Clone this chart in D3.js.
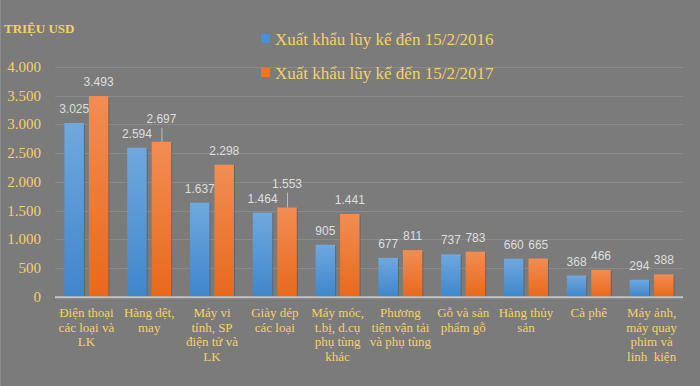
<!DOCTYPE html>
<html>
<head>
<meta charset="utf-8">
<script src="https://cdn.jsdelivr.net/npm/d3@7"></script>
<style>
	html, body { margin: 0; padding: 0; background: #7b7b7b; }
	svg { display: block; }
</style>
</head>
<body>
<svg id="chart" width="700" height="386"></svg>
<script>
var categories = [
	["Điện thoại", "các loại và", "LK"],
	["Hàng dệt,", "may"],
	["Máy vi", "tính, SP", "điện tử và", "LK"],
	["Giày dép", "các loại"],
	["Máy móc,", "t.bị, d.cụ", "phụ tùng", "khác"],
	["Phương", "tiện vận tải", "và phụ tùng"],
	["Gỗ và sản", "phẩm gỗ"],
	["Hàng thủy", "sản"],
	["Cà phê"],
	["Máy ảnh,", "máy quay", "phim và", "linh  kiện"]
];
var series2016 = [3025, 2594, 1637, 1464, 905, 677, 737, 660, 368, 294];
var series2017 = [3493, 2697, 2298, 1553, 1441, 811, 783, 665, 466, 388];
var seriesNames = ["Xuất khẩu lũy kế đến 15/2/2016", "Xuất khẩu lũy kế đến 15/2/2017"];
var yTicks = [0, 500, 1000, 1500, 2000, 2500, 3000, 3500, 4000];
var unitLabel = "TRIỆU USD";

var width = 700, height = 386;
var plotLeft = 55, plotRight = 683, plotTop = 67, plotBottom = 296.7;
var yellow = "#f5d169";
var fmt = function(v) { return d3.format(",")(v).replace(/,/g, "."); };

var svg = d3.select("#chart");

var defs = svg.append("defs");
function grad(id, c1, c2) {
	var g = defs.append("linearGradient").attr("id", id)
		.attr("x1", 0).attr("y1", 0).attr("x2", 0).attr("y2", 1);
	g.append("stop").attr("offset", "0%").attr("stop-color", c1);
	g.append("stop").attr("offset", "100%").attr("stop-color", c2);
}
grad("g0", "#70a8de", "#3f86cc");
grad("g1", "#f28d53", "#e8691b");
var fills = ["url(#g0)", "url(#g1)"];
var swatch = ["#4a90d6", "#ee7526"];

svg.append("rect")
	.attr("width", width).attr("height", height)
	.attr("fill", "#7b7b7b");
svg.append("line")
	.attr("x1", 0.5).attr("x2", 0.5).attr("y1", 0).attr("y2", height)
	.attr("stroke", "#8e8e8e");

var xScale = d3.scaleBand()
	.domain(d3.range(categories.length))
	.range([plotLeft, plotRight])
	.paddingInner(0.3)
	.paddingOuter(0.15);

var xSub = d3.scaleBand()
	.domain([0, 1])
	.range([0, xScale.bandwidth()])
	.paddingInner(0.204);

var yScale = d3.scaleLinear()
	.domain([0, 4000])
	.range([plotBottom, plotTop]);

// gridlines
svg.append("g")
	.selectAll("line")
	.data(yTicks.slice(1))
	.enter().append("line")
		.attr("x1", plotLeft).attr("x2", plotRight)
		.attr("y1", function(d) { return Math.round(yScale(d)) + 0.5; })
		.attr("y2", function(d) { return Math.round(yScale(d)) + 0.5; })
		.attr("stroke", "#8a8a8a");

// y tick labels
svg.append("g")
	.selectAll("text")
	.data(yTicks)
	.enter().append("text")
		.attr("x", 41)
		.attr("y", function(d) { return yScale(d) + 5; })
		.attr("text-anchor", "end")
		.attr("fill", yellow)
		.style("font-family", "'Liberation Serif', 'Times New Roman', serif")
		.style("font-size", "15px")
		.text(function(d) { return d === 0 ? "0" : fmt(d); });

svg.append("text")
	.attr("x", 4).attr("y", 33)
	.attr("fill", yellow)
	.style("font-family", "'Liberation Serif', 'Times New Roman', serif")
	.style("font-size", "13px")
	.style("font-weight", "bold")
	.text(unitLabel);

var data = [series2016, series2017];

// bars
var groups = svg.append("g").selectAll("g")
	.data(data)
	.enter().append("g");

groups.selectAll("rect.shadow")
	.data(function(d, s) { return d.map(function(v, i) { return { v: v, i: i, s: s }; }); })
	.enter().append("rect")
		.attr("class", "shadow")
		.attr("x", function(d) { return xScale(d.i) + xSub(d.s) + 1; })
		.attr("y", function(d) { return yScale(d.v) + 1; })
		.attr("width", xSub.bandwidth())
		.attr("height", function(d) { return plotBottom - yScale(d.v) - 1; })
		.attr("fill", "rgba(0,0,0,0.18)");

groups.selectAll("rect.bar")
	.data(function(d, s) { return d.map(function(v, i) { return { v: v, i: i, s: s }; }); })
	.enter().append("rect")
		.attr("class", "bar")
		.attr("x", function(d) { return xScale(d.i) + xSub(d.s); })
		.attr("y", function(d) { return yScale(d.v); })
		.attr("width", xSub.bandwidth())
		.attr("height", function(d) { return plotBottom - yScale(d.v); })
		.attr("fill", function(d) { return fills[d.s]; });

// axis line
svg.append("line")
	.attr("x1", plotLeft).attr("x2", plotRight)
	.attr("y1", plotBottom + 0.5).attr("y2", plotBottom + 0.5)
	.attr("stroke", "#c4c4c4")
	.attr("stroke-width", 2);

// data labels, orange label pushed up when it collides with the blue one
var labelFont = "'Liberation Sans', Arial, sans-serif";
var labels = svg.append("g");
categories.forEach(function(c, i) {
	var pos = [];
	[0, 1].forEach(function(s) {
		var v = data[s][i];
		var cx = xScale(i) + xSub(s) + xSub.bandwidth() / 2;
		var txt = fmt(v);
		var w = txt.length * 6.2;
		pos.push({ cx: cx, y: yScale(v) - 10, top: yScale(v), w: w, txt: txt });
	});
	var a = pos[0], b = pos[1];
	var hOverlap = (a.cx + a.w / 2) > (b.cx - b.w / 2) - 2;
	if (hOverlap && Math.abs(a.y - b.y) < 13) {
		b.y = a.y - 15;
		labels.append("line")
			.attr("x1", b.cx + 0.5).attr("x2", b.cx + 0.5)
			.attr("y1", b.y + 5).attr("y2", b.top)
			.attr("stroke", "#bfbfbf");
	}
	pos.forEach(function(p) {
		labels.append("text")
			.attr("x", p.cx)
			.attr("y", p.y)
			.attr("text-anchor", "middle")
			.attr("fill", "#dedede")
			.style("font-family", labelFont)
			.style("font-size", "12px")
			.text(p.txt);
	});
});

// category labels
var cat = svg.append("g").selectAll("text")
	.data(categories)
	.enter().append("text")
		.attr("x", function(d, i) { return xScale(i) + xScale.bandwidth() / 2; })
		.attr("y", 317)
		.attr("text-anchor", "middle")
		.attr("fill", yellow)
		.style("font-family", "'Liberation Serif', 'Times New Roman', serif")
		.style("font-size", "13px")
		.style("white-space", "pre");

cat.selectAll("tspan")
	.data(function(d) { return d; })
	.enter().append("tspan")
		.attr("x", function() { return d3.select(this.parentNode).attr("x"); })
		.attr("dy", function(d, j) { return j === 0 ? 0 : 14.5; })
		.text(function(d) { return d; });

// legend
var legend = svg.append("g").selectAll("g")
	.data(seriesNames)
	.enter().append("g")
		.attr("transform", function(d, i) { return "translate(261," + (34 + i * 34) + ")"; });

legend.append("rect")
	.attr("width", 9).attr("height", 9)
	.attr("fill", function(d, i) { return swatch[i]; });

legend.append("text")
	.attr("x", 14).attr("y", 10.5)
	.attr("fill", yellow)
	.style("font-family", "'Liberation Serif', 'Times New Roman', serif")
	.style("font-size", "17px")
	.text(function(d) { return d; });
</script>
</body>
</html>
